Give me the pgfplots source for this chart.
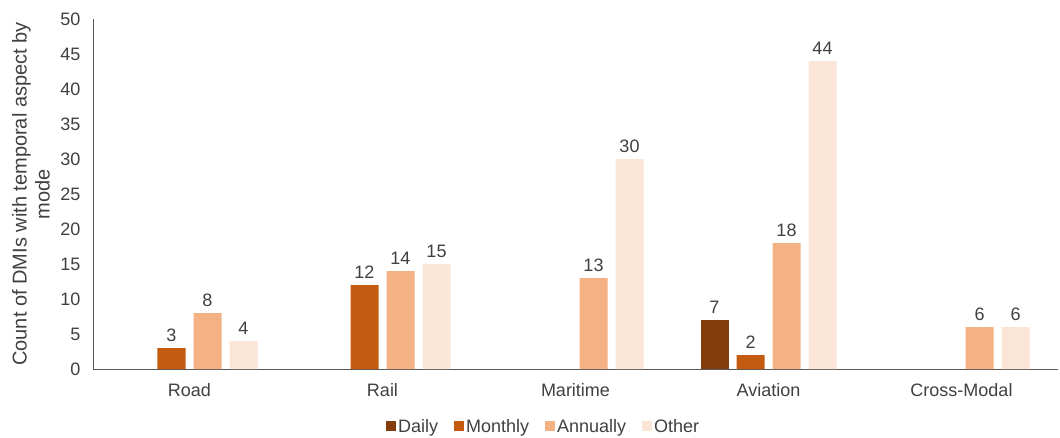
\documentclass[border=0pt]{standalone}
\usepackage{fontspec}
\setmainfont{Liberation Sans}
\usepackage{pgfplots}
\pgfplotsset{compat=1.18}

\definecolor{cDaily}{HTML}{843C0C}
\definecolor{cMonthly}{HTML}{C55A11}
\definecolor{cAnnual}{HTML}{F4B183}
\definecolor{cOther}{HTML}{FBE5D6}
\definecolor{txt}{HTML}{404040}
\definecolor{axln}{HTML}{595959}

\newcommand{\chartfont}{\fontsize{18}{22}\selectfont}

\begin{document}
\begin{tikzpicture}[font=\chartfont]
\useasboundingbox (-93pt,-68pt) rectangle (967pt,369pt);
\begin{axis}[
  at={(0,0)}, anchor=south west,
  scale only axis,
  width=965pt, height=350pt,
  xmin=-0.5, xmax=4.5,
  ymin=0, ymax=50,
  ytick={0,5,...,50},
  xtick={0,1,2,3,4},
  xticklabels={Road,Rail,Maritime,Aviation,Cross-Modal},
  axis lines*=left,
  axis line style={axln, line width=0.8pt},
  major tick length=0pt,
  tick label style={txt, font=\chartfont},
  /pgf/number format/assume math mode=true,
  xticklabel style={yshift=-11pt},
  yticklabel style={xshift=-9pt},
  ylabel={Count of DMIs with temporal aspect by\\mode},
  ylabel style={at={(axis description cs:0,0.5)}, anchor=center, rotate=0,
    yshift=62pt, align=center, txt, font=\fontsize{20}{23}\selectfont},
  ybar, bar width=28pt,
  nodes near coords,
  every node near coord/.append style={txt, font=\chartfont, yshift=3pt},
  legend style={at={(0.467,-0.166)}, anchor=center, draw=none, fill=none,
    legend columns=4, font=\chartfont, text=txt,
    /tikz/every even column/.append style={column sep=14pt},
    /tikz/every odd column/.append style={column sep=0pt}},
  legend image code/.code={\fill[#1] (0pt,-4pt) rectangle (10pt,6pt);},
  clip=false,
]
\addplot[fill=cDaily, draw=none, bar shift=-54pt] coordinates {(3,7)};
\addplot[fill=cMonthly, draw=none, bar shift=-18pt] coordinates {(0,3) (1,12) (3,2)};
\addplot[fill=cAnnual, draw=none, bar shift=18pt] coordinates {(0,8) (1,14) (2,13) (3,18) (4,6)};
\addplot[fill=cOther, draw=none, bar shift=54pt] coordinates {(0,4) (1,15) (2,30) (3,44) (4,6)};
\legend{Daily,Monthly,Annually,Other}
\end{axis}
\end{tikzpicture}
\end{document}
